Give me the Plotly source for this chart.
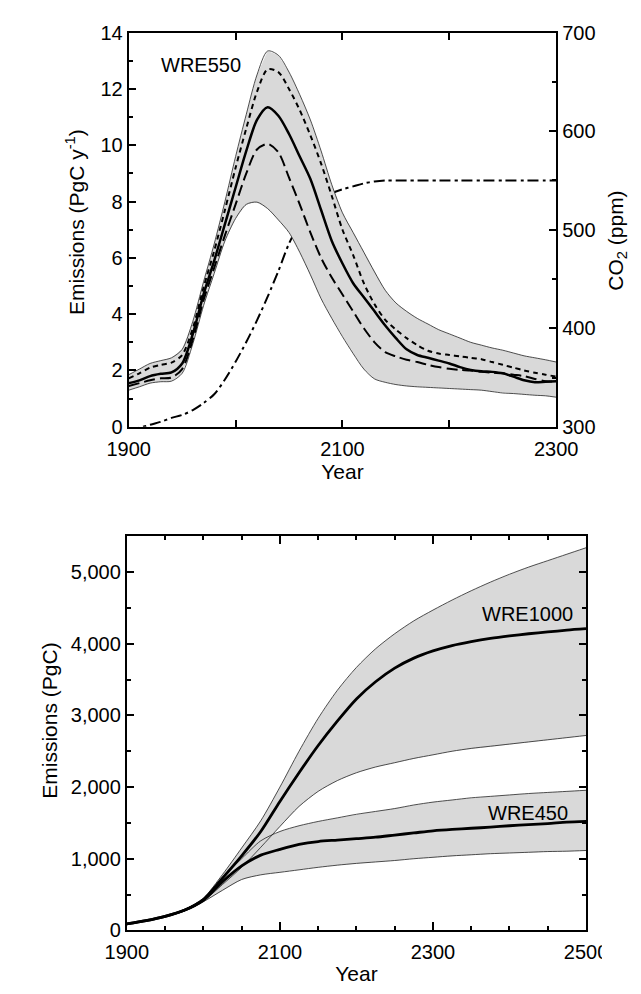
import plotly.graph_objects as go

# ---------------- Top panel data (WRE550, annual emissions, PgC/y) ----------------
years_top = [1900, 1910, 1920, 1930, 1940, 1950, 1960, 1970, 1980, 1990,
             2000, 2010, 2020, 2030, 2040, 2050, 2060, 2070, 2080, 2090,
             2100, 2110, 2120, 2130, 2140, 2150, 2160, 2170, 2180, 2190,
             2200, 2210, 2220, 2230, 2240, 2250, 2260, 2270, 2280, 2290, 2300]

em_mean = [1.55, 1.65, 1.80, 1.88, 1.93, 2.25, 3.30, 4.70, 5.90, 7.20,
           8.50, 9.80, 10.90, 11.35, 11.05, 10.40, 9.60, 8.80, 7.70, 6.60,
           5.80, 5.10, 4.60, 4.10, 3.60, 3.15, 2.75, 2.55, 2.45, 2.35,
           2.25, 2.12, 2.02, 1.97, 1.95, 1.90, 1.78, 1.65, 1.58, 1.60, 1.62]

em_upper_dash = [1.72, 1.90, 2.10, 2.20, 2.28, 2.55, 3.50, 4.95, 6.25, 7.70,
                 9.20, 10.60, 11.90, 12.70, 12.60, 12.00, 11.25, 10.35, 9.35, 8.20,
                 7.00, 6.10, 5.10, 4.35, 3.80, 3.45, 3.15, 2.90, 2.70, 2.60,
                 2.55, 2.50, 2.45, 2.40, 2.30, 2.20, 2.10, 2.00, 1.92, 1.85, 1.78]

em_lower_dash = [1.45, 1.55, 1.65, 1.72, 1.75, 2.05, 3.10, 4.50, 5.65, 6.80,
                 7.90, 9.00, 9.85, 10.05, 9.75, 8.85, 7.90, 6.90, 6.00, 5.30,
                 4.70, 4.10, 3.50, 3.00, 2.65, 2.50, 2.38, 2.30, 2.20, 2.12,
                 2.06, 2.02, 2.00, 1.95, 1.92, 1.90, 1.85, 1.80, 1.70, 1.62, 1.60]

em_band_hi = [1.85, 2.05, 2.25, 2.35, 2.45, 2.75, 3.75, 5.15, 6.50, 8.00,
              9.60, 11.10, 12.50, 13.35, 13.20, 12.60, 11.80, 10.90, 9.80, 8.60,
              7.60, 6.90, 6.20, 5.50, 4.85, 4.40, 4.10, 3.85, 3.65, 3.45,
              3.30, 3.15, 3.00, 2.90, 2.80, 2.72, 2.62, 2.52, 2.45, 2.38, 2.30]

em_band_lo = [1.30, 1.42, 1.55, 1.60, 1.62, 1.90, 2.95, 4.30, 5.45, 6.60,
              7.40, 7.90, 7.98, 7.75, 7.35, 6.90, 6.20, 5.40, 4.55, 3.85,
              3.20, 2.60, 2.05, 1.70, 1.58, 1.50, 1.45, 1.42, 1.40, 1.38,
              1.36, 1.34, 1.32, 1.30, 1.25, 1.20, 1.18, 1.15, 1.12, 1.10, 1.05]

co2_ppm = [296, 299, 302, 305, 309, 312, 317, 324, 333, 348,
           366, 386, 408, 432, 458, 486, 506, 521, 531, 537,
           541, 544, 547, 549, 550, 550, 550, 550, 550, 550,
           550, 550, 550, 550, 550, 550, 550, 550, 550, 550, 550]

# ---------------- Bottom panel data (cumulative emissions, PgC) ----------------
years_bot = [1900, 1925, 1950, 1975, 2000, 2025, 2050, 2075, 2100, 2125,
             2150, 2175, 2200, 2225, 2250, 2275, 2300, 2325, 2350, 2375,
             2400, 2425, 2450, 2475, 2500]

wre1000_mean = [90, 135, 195, 280, 430, 730, 1040, 1380, 1800, 2200,
                2580, 2920, 3230, 3470, 3660, 3800, 3900, 3975, 4030, 4075,
                4110, 4140, 4165, 4190, 4210]
wre1000_hi = [95, 140, 200, 290, 450, 780, 1150, 1530, 2000, 2500,
              2960, 3350, 3670, 3930, 4140, 4320, 4470, 4610, 4740, 4860,
              4970, 5070, 5160, 5250, 5340]
wre1000_lo = [85, 130, 190, 270, 410, 640, 880, 1160, 1450, 1730,
              1940, 2090, 2200, 2280, 2340, 2400, 2450, 2500, 2540, 2570,
              2600, 2630, 2660, 2690, 2720]

wre450_mean = [90, 135, 195, 280, 420, 680, 900, 1050, 1130, 1200,
               1240, 1260, 1280, 1300, 1330, 1360, 1390, 1410, 1425, 1440,
               1460, 1475, 1490, 1510, 1520]
wre450_hi = [95, 140, 200, 290, 440, 740, 1000, 1250, 1380, 1460,
             1520, 1570, 1620, 1660, 1700, 1750, 1790, 1820, 1850, 1870,
             1890, 1910, 1925, 1940, 1955]
wre450_lo = [85, 130, 190, 270, 400, 560, 710, 775, 810, 845,
             880, 910, 935, 955, 975, 1000, 1020, 1040, 1055, 1070,
             1080, 1090, 1100, 1105, 1115]

top_xticks = [1900, 2100, 2300]
bot_xticks = [1900, 2100, 2300, 2500]

# ---------------- Styling ----------------
W, H = 641, 994
FONT = "Liberation Sans, Arial, sans-serif"
FILL = "#d9d9d9"
EDGE = "#222222"


def px_x(p):
    return p / W


def px_y(p):
    return 1 - p / H


fig = go.Figure()


def band(x, lo, hi, xa, ya):
    fig.add_trace(go.Scatter(
        x=list(x) + list(x)[::-1], y=list(hi) + list(lo)[::-1],
        fill="toself", fillcolor=FILL, line=dict(width=0),
        mode="lines", hoverinfo="skip", showlegend=False,
        xaxis=xa, yaxis=ya))


def line(x, y, xa, ya, width, dash="solid", color="black", shape="spline"):
    fig.add_trace(go.Scatter(
        x=x, y=y, mode="lines",
        line=dict(color=color, width=width, dash=dash, shape=shape, smoothing=0.8),
        showlegend=False, xaxis=xa, yaxis=ya))


# Top panel: CO2 on base axis (y, right side) so the emission band drawn
# on the overlaying axis (y2, left side) covers it, as in the reference.
line(years_top, co2_ppm, "x", "y", 2.0, dash="11px,4px,3px,4px")
band(years_top, em_band_lo, em_band_hi, "x", "y2")
line(years_top, em_band_hi, "x", "y2", 0.8, color=EDGE)
line(years_top, em_band_lo, "x", "y2", 0.8, color=EDGE)
line(years_top, em_upper_dash, "x", "y2", 2.0, dash="5px,4px")
line(years_top, em_lower_dash, "x", "y2", 2.0, dash="11px,5px")
line(years_top, em_mean, "x", "y2", 2.5)

# Bottom panel
band(years_bot, wre1000_lo, wre1000_hi, "x2", "y3")
band(years_bot, wre450_lo, wre450_hi, "x2", "y3")
for series in (wre1000_hi, wre1000_lo, wre450_hi, wre450_lo):
    line(years_bot, series, "x2", "y3", 0.8, color=EDGE)
line(years_bot, wre1000_mean, "x2", "y3", 2.8)
line(years_bot, wre450_mean, "x2", "y3", 2.8)

tickfont = dict(family=FONT, size=20, color="black")
common = dict(showgrid=False, zeroline=False, showline=True, linewidth=2,
              linecolor="black", ticks="inside", tickwidth=1.5,
              tickcolor="black", tickfont=tickfont)
txt = dict(family=FONT, size=20, color="black")
ttl = dict(family=FONT, size=21, color="black")

fig.update_layout(
    width=W, height=H,
    margin=dict(l=0, r=0, t=0, b=0),
    paper_bgcolor="white", plot_bgcolor="white",
    font=dict(family=FONT, size=20, color="black"),
    showlegend=False,
    xaxis=dict(domain=[px_x(106), px_x(565)], anchor="y", range=[1900, 2300],
               tickmode="array", tickvals=top_xticks,
               ticklen=7, mirror="allticks", ticklabelstandoff=3,
               minor=dict(dtick=100, tick0=1900, ticklen=7, ticks="inside",
                          tickcolor="black", tickwidth=1.5),
               title=dict(text="Year", font=ttl, standoff=4),
               **common),
    yaxis=dict(domain=[px_y(417), px_y(14)], anchor="x", side="right",
               range=[300, 700], tick0=300, dtick=100, ticklen=7,
               minor=dict(dtick=50, ticklen=4, ticks="inside", tickcolor="black", tickwidth=1.5),
               **common),
    yaxis2=dict(domain=[px_y(417), px_y(14)], anchor="x", overlaying="y", side="left",
                range=[0, 14], tick0=0, dtick=2, ticklen=7,
                minor=dict(dtick=1, ticklen=4, ticks="inside", tickcolor="black", tickwidth=1.5),
                **common),
    xaxis2=dict(domain=[px_x(104), px_x(597)], anchor="y3", range=[1900, 2500],
                tickmode="array", tickvals=bot_xticks,
                ticklen=8, mirror="allticks", ticklabelstandoff=3,
                minor=dict(dtick=50, tick0=1900, ticklen=4, ticks="inside", tickcolor="black", tickwidth=1.5),
                title=dict(text="Year", font=ttl, standoff=4),
                **common),
    yaxis3=dict(domain=[px_y(932), px_y(529)], anchor="x2", range=[0, 5500],
                tick0=0, dtick=1000, tickformat=",d", ticklen=7, mirror="allticks",
                minor=dict(dtick=500, ticklen=4, ticks="inside", tickcolor="black", tickwidth=1.5),
                **common),
    annotations=[
        # axis titles
        dict(text="Emissions (PgC y<sup>-1</sup>)", x=px_x(49), y=px_y(208),
             xref="paper", yref="paper", textangle=-90, showarrow=False,
             xanchor="center", yanchor="middle", font=ttl),
        dict(text="CO<sub>2</sub> (ppm)", x=px_x(630), y=px_y(227),
             xref="paper", yref="paper", textangle=-90, showarrow=False,
             xanchor="center", yanchor="middle", font=ttl),
        dict(text="Emissions (PgC)", x=px_x(20), y=px_y(718),
             xref="paper", yref="paper", textangle=-90, showarrow=False,
             xanchor="center", yanchor="middle", font=ttl),
        # scenario labels
        dict(text="WRE550", x=1928, y=12.85, xref="x", yref="y2",
             xanchor="left", yanchor="middle", showarrow=False, font=txt),
        dict(text="WRE1000", x=2485, y=4414, xref="x2", yref="y3",
             xanchor="right", yanchor="middle", showarrow=False, font=txt),
        dict(text="WRE450", x=2479, y=1632, xref="x2", yref="y3",
             xanchor="right", yanchor="middle", showarrow=False, font=txt),
    ],
    shapes=[
        dict(type="rect", xref="paper", yref="paper",
             x0=px_x(614), x1=1.0, y0=px_y(968), y1=px_y(938),
             fillcolor="white", line=dict(width=0), layer="above"),
    ],
)

fig.write_html("out.html")
